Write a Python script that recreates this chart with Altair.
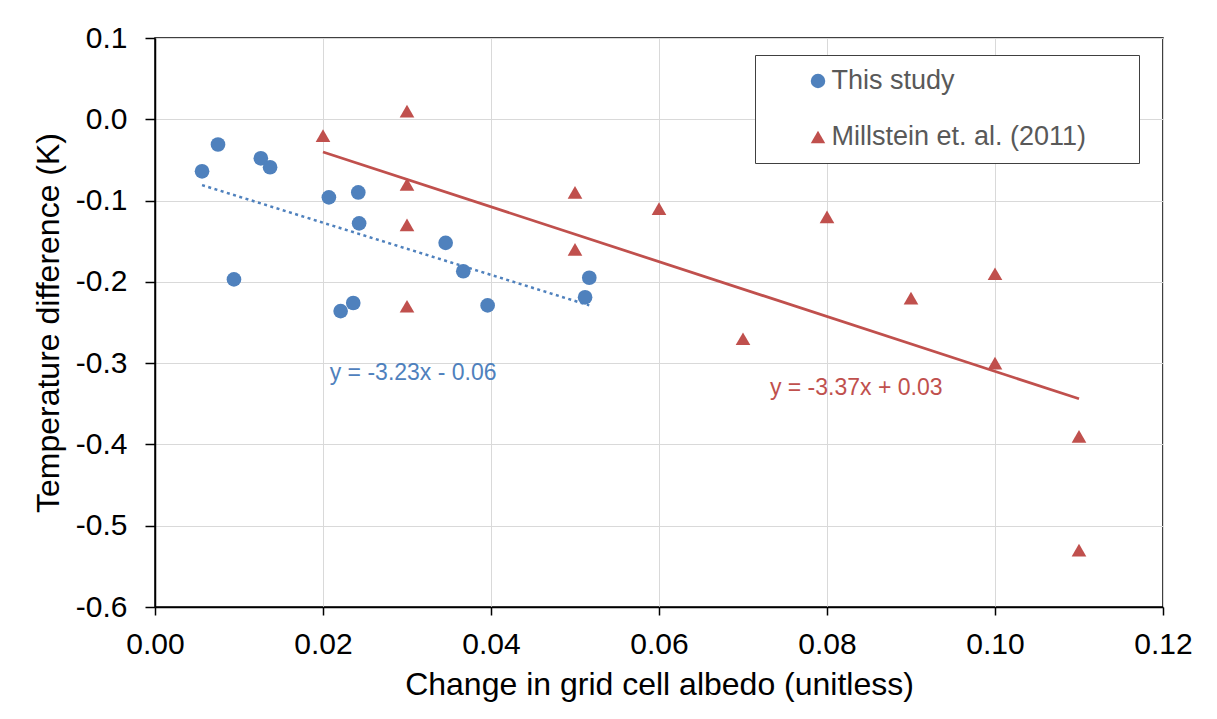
import altair as alt
import pandas as pd

# ---- data ----
series_names = ["This study", "Millstein et. al. (2011)"]

blue_x = [0.0056, 0.0075, 0.0094, 0.0126, 0.0137, 0.0207, 0.0242, 0.0243,
          0.0346, 0.0367, 0.0221, 0.0236, 0.0396, 0.0512, 0.0517]
blue_y = [-0.064, -0.031, -0.197, -0.048, -0.059, -0.096, -0.090, -0.128,
          -0.152, -0.187, -0.236, -0.226, -0.229, -0.219, -0.195]

red_x = [0.02, 0.03, 0.03, 0.03, 0.03, 0.05, 0.05, 0.06, 0.07, 0.08, 0.09,
         0.10, 0.10, 0.11, 0.11]
red_y = [-0.02, 0.01, -0.08, -0.13, -0.23, -0.09, -0.16, -0.11, -0.27, -0.12,
         -0.22, -0.19, -0.30, -0.39, -0.53]

eq_text = ["y = -3.23x - 0.06", "y = -3.37x + 0.03"]
eq_x = [0.0208, 0.0732]
eq_y = [-0.3125, -0.331]

x_ticks = [0.00, 0.02, 0.04, 0.06, 0.08, 0.10, 0.12]
y_ticks = [-0.6, -0.5, -0.4, -0.3, -0.2, -0.1, 0.0, 0.1]

BLUE = "#4F81BD"
RED = "#C0504D"
FONT = "Liberation Sans"

df = pd.DataFrame({
    "x": blue_x + red_x,
    "y": blue_y + red_y,
    "series": [series_names[0]] * len(blue_x) + [series_names[1]] * len(red_x),
})
eq_df = pd.DataFrame({"x": eq_x, "y": eq_y, "text": eq_text, "series": series_names})

x_enc = alt.X("x:Q",
              scale=alt.Scale(domain=[0, 0.12], nice=False, zero=False),
              axis=alt.Axis(values=x_ticks, format=".2f", labelFlush=False,
                            title="Change in grid cell albedo (unitless)",
                            tickSize=8, labelPadding=14, titlePadding=10))
y_enc = alt.Y("y:Q",
              scale=alt.Scale(domain=[-0.6, 0.1], nice=False, zero=False),
              axis=alt.Axis(values=y_ticks, labelFlush=False,
                            labelExpr="replace(format(datum.value, '.1f'), '\u2212', '-')",
                            title="Temperature difference (K)",
                            tickSize=10, labelPadding=18, titlePadding=10))

# blank (non-whitespace) padding so the legend frame is as wide as in the reference
pad = "\u2800" * 2
legend = alt.Legend(title=None, orient="none", legendX=600, legendY=17,
                    labelFont=FONT, labelFontSize=27, labelColor="#595959",
                    labelLimit=600,
                    symbolSize=210, symbolOffset=37, labelOffset=0,
                    padding=12.5, rowPadding=28,
                    strokeColor="#404040", fillColor="white",
                    labelExpr="datum.label + '" + pad + "'")

points = alt.Chart(df).mark_point(filled=True, opacity=1, size=215).encode(
    x=x_enc, y=y_enc,
    color=alt.Color("series:N", scale=alt.Scale(domain=series_names, range=[BLUE, RED]),
                    legend=legend),
    shape=alt.Shape("series:N", scale=alt.Scale(domain=series_names,
                                                range=["circle", "triangle-up"]),
                    legend=legend),
)

blue_line = alt.Chart(df).transform_filter(
    alt.datum.series == series_names[0]
).transform_regression("x", "y").mark_line(
    color=BLUE, strokeDash=[3, 3.5], strokeWidth=2.5
).encode(x="x:Q", y="y:Q")

red_line = alt.Chart(df).transform_filter(
    alt.datum.series == series_names[1]
).transform_regression("x", "y").mark_line(
    color=RED, strokeWidth=2.75
).encode(x="x:Q", y="y:Q")

blue_eq = alt.Chart(eq_df).transform_filter(
    alt.datum.series == series_names[0]
).mark_text(align="left", baseline="middle", font=FONT, fontSize=23, color=BLUE).encode(
    x="x:Q", y="y:Q", text="text:N")

red_eq = alt.Chart(eq_df).transform_filter(
    alt.datum.series == series_names[1]
).mark_text(align="left", baseline="middle", font=FONT, fontSize=23, color=RED).encode(
    x="x:Q", y="y:Q", text="text:N")

chart = alt.layer(points, blue_line, red_line, blue_eq, red_eq).properties(
    width=1008, height=569,
    autosize=alt.AutoSizeParams(type="none"),
    padding={"left": 147, "top": 30, "right": 46, "bottom": 104},
    background="white",
).configure_view(
    stroke="black", strokeWidth=1.5
).configure_axis(
    grid=True, gridColor="#d9d9d9", gridWidth=1,
    domainColor="black", domainWidth=1.5, tickColor="black", tickWidth=1.5,
    labelColor="black", titleColor="black",
    labelFont=FONT, titleFont=FONT, labelFontSize=30, titleFontSize=32,
    titleFontWeight="normal",
)

chart.save("out.html", embed_options={"renderer": "svg", "actions": False})
